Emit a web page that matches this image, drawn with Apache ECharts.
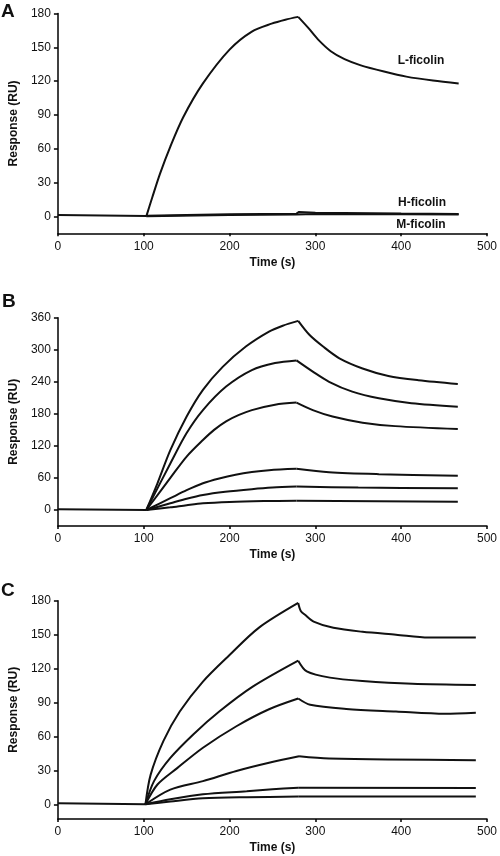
<!DOCTYPE html>
<html>
<head>
<meta charset="utf-8">
<script src="https://cdn.jsdelivr.net/npm/echarts@6/dist/echarts.min.js"></script>
<style>html,body{margin:0;padding:0;background:#fff}#c{width:500px;height:856px}</style>
</head>
<body>
<div id="c"></div>
<script>
// ---- Tick labels ----
const xTicks = [0, 100, 200, 300, 400, 500];
const aYTicks = [0, 30, 60, 90, 120, 150, 180];
const bYTicks = [0, 60, 120, 180, 240, 300, 360];
const cYTicks = [0, 30, 60, 90, 120, 150, 180];

// ---- Panel A ----
const aBaseline = [[0, 1.2], [103, 0.3]];
const aLAssoc = [[103, 0], [110, 17], [119, 38], [131, 62], [146, 88], [169, 118], [200, 148], [226, 164], [249, 171], [265, 174.5], [280, 177]];
const aLDissoc = [[280, 177], [292, 167], [303, 157], [318, 146.5], [334, 139.5], [353, 134], [380, 128.5], [406, 124], [437, 120.5], [467, 118]];
const aH = [[103, 0.5], [150, 1.3], [200, 1.8], [278, 2.4], [281, 4], [300, 3.2], [400, 2.5], [467, 2.2]];
const aM = [[103, 0.2], [200, 1.2], [278, 1.6], [300, 2.2], [400, 1.8], [467, 1.6]];

// ---- Panel B ----
const bBaseline = [[0, 1.5], [103, 0]];
const bAssoc = [
  [[103, 0], [116, 50], [131, 112], [150, 175], [169, 225], [192, 268], [219, 306], [246, 334], [262, 345], [280, 354]],
  [[103, 0], [131, 87], [150, 144], [169, 187], [196, 231], [226, 262], [253, 275], [278, 280]],
  [[103, 0], [131, 60], [150, 100], [169, 131], [182, 150], [196, 166], [211, 178], [226, 187], [253, 197], [278, 201]],
  [[103, 0], [131, 22], [150, 37], [169, 50], [188, 59], [207, 66], [226, 71], [246, 74.5], [278, 77]],
  [[103, 0], [131, 12.5], [150, 21], [169, 28], [195, 34], [226, 39], [250, 42], [278, 44]],
  [[103, 0], [131, 5], [150, 9], [169, 12.5], [200, 15], [240, 16.6], [278, 17.4]]
];
const bDissoc = [
  [[280, 354], [293, 328], [309, 306], [328, 284], [355, 265], [385, 251], [420, 243], [466, 236]],
  [[278, 280], [297, 259], [316, 240], [343, 221.5], [374, 209], [412, 200], [466, 193.5]],
  [[278, 201], [297, 187], [320, 175], [355, 163.5], [393, 157], [466, 151.5]],
  [[278, 77], [316, 70.5], [374, 67], [466, 64]],
  [[278, 44], [350, 42], [466, 40.5]],
  [[278, 17.4], [466, 15.6]]
];

// ---- Panel C ----
const cBaseline = [[0, 1], [102, 0]];
const cAssoc = [
  [[102, 0], [108, 26], [123, 56], [142, 82], [169, 108.5], [200, 132], [234, 156], [280, 178]],
  [[102, 0], [112, 20.5], [131, 41], [158, 62], [188, 82], [227, 104], [280, 127]],
  [[102, 0], [116, 17.5], [139, 32], [169, 50], [208, 69], [246, 84], [280, 93.5]],
  [[102, 0], [131, 13], [169, 20.5], [208, 29.5], [246, 36.7], [281, 42.5]],
  [[102, 0], [131, 4.4], [169, 8.8], [220, 11.5], [250, 13.3], [280, 14.7]],
  [[102, 0], [131, 2.5], [169, 5.3], [220, 6.3], [280, 6.8]]
];
const cDissoc = [
  [[280, 178], [283, 171], [288, 167.5], [298, 161.5], [321, 156], [355, 152.5], [394, 150], [432, 147.5], [487, 147.5]],
  [[280, 127], [290, 117.5], [317, 112], [355, 109], [413, 106.5], [487, 105.5]],
  [[280, 93.5], [294, 88], [336, 84.3], [394, 82], [451, 80], [487, 81]],
  [[281, 42.5], [316, 40.5], [487, 39]],
  [[280, 14.7], [487, 14.5]],
  [[280, 6.8], [487, 6.8]]
];

const FONT = "'Liberation Sans', Arial, sans-serif";
const INK = '#111';

function xAxisFor(i) {
  return {
    gridIndex: i, type: 'value', min: 0, max: 500, interval: 100,
    name: 'Time (s)', nameLocation: 'middle', nameGap: 23,
    nameTextStyle: { fontFamily: FONT, fontWeight: 'bold', fontSize: 12, color: INK },
    axisLine: { onZero: false, lineStyle: { color: '#000', width: 1.5 } },
    axisTick: { show: true, length: 3, lineStyle: { color: '#000', width: 1.5 } },
    axisLabel: { fontFamily: FONT, fontSize: 12, color: INK, margin: 7,
      customValues: xTicks },
    splitLine: { show: false }
  };
}
function yAxisFor(i, min, max, ticks, gap) {
  return {
    gridIndex: i, type: 'value', min: min, max: max,
    name: 'Response (RU)', nameLocation: 'middle', nameGap: gap,
    nameTextStyle: { fontFamily: FONT, fontWeight: 'bold', fontSize: 12, color: INK },
    axisLine: { show: true, onZero: false, lineStyle: { color: '#000', width: 1.5 } },
    axisTick: { show: true, length: 4, customValues: ticks, lineStyle: { color: '#000', width: 1.5 } },
    axisLabel: { fontFamily: FONT, fontSize: 12, color: INK, margin: 7, customValues: ticks },
    splitLine: { show: false }
  };
}
function line(i, data, smooth) {
  return {
    type: 'line', xAxisIndex: i, yAxisIndex: i, data: data,
    showSymbol: false, symbol: 'none', silent: true,
    smooth: smooth ? 0.3 : false,
    lineStyle: { color: INK, width: 2 }
  };
}

const series = [];
series.push(line(0, aBaseline, false));
series.push(line(0, aLAssoc, true));
series.push(line(0, aLDissoc, true));
series.push(line(0, aH, false));
series.push(line(0, aM, false));
series.push(line(1, bBaseline, false));
bAssoc.forEach(d => series.push(line(1, d, true)));
bDissoc.forEach(d => series.push(line(1, d, true)));
series.push(line(2, cBaseline, false));
cAssoc.forEach(d => series.push(line(2, d, true)));
cDissoc.forEach(d => series.push(line(2, d, true)));

function txt(text, x, y, size, align) {
  return { type: 'text', x: x, y: y, silent: true,
    style: { text: text, font: 'bold ' + size + 'px ' + FONT, fill: INK,
      align: align || 'left', verticalAlign: 'middle' } };
}

const chart = echarts.init(document.getElementById('c'), null, { renderer: 'canvas' });
chart.setOption({
  animation: false,
  backgroundColor: '#fff',
  grid: [
    { left: 53, top: 13.5, width: 435, height: 219.8 },
    { left: 54.3, top: 317.7, width: 435.7, height: 208.3 },
    { left: 54.3, top: 600.7, width: 435, height: 218.3 }
  ],
  xAxis: [xAxisFor(0), xAxisFor(1), xAxisFor(2)],
  yAxis: [
    yAxisFor(0, -15, 180, aYTicks, 35),
    yAxisFor(1, -30, 360, bYTicks, 37),
    yAxisFor(2, -13, 180, cYTicks, 37)
  ],
  series: series,
  graphic: [
    txt('A', 1, 12, 19),
    txt('B', 2, 302, 19),
    txt('C', 1, 591, 19),
    txt('L-ficolin', 421, 61, 12, 'center'),
    txt('H-ficolin', 422, 203, 12, 'center'),
    txt('M-ficolin', 421, 225, 12, 'center')
  ]
});
</script>
</body>
</html>
